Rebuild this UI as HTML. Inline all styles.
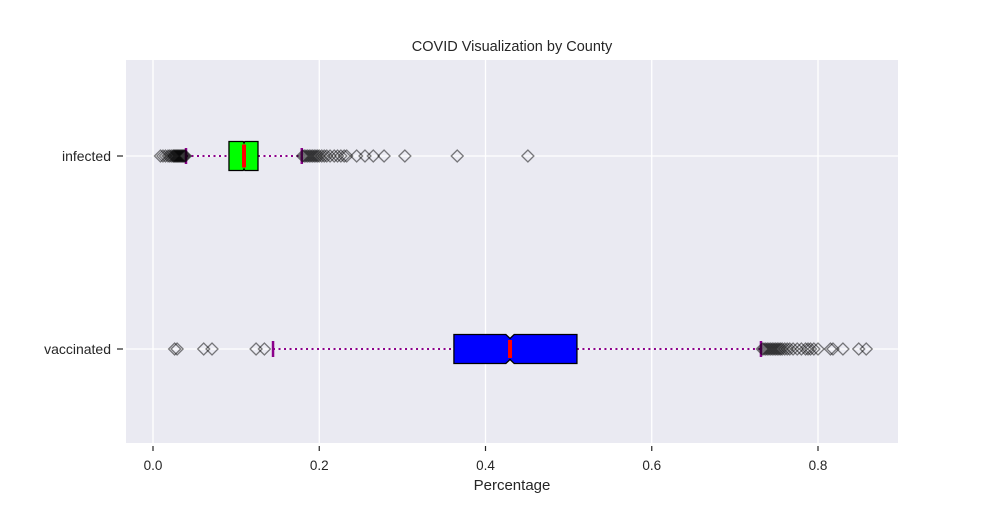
<!DOCTYPE html>
<html><head><meta charset="utf-8"><style>
body{margin:0;background:#fff;}
svg text{font-family:"Liberation Sans",sans-serif;fill:#262626;}
</style></head><body>
<svg id="chart" width="1000" height="500" xmlns="http://www.w3.org/2000/svg">
<rect x="126" y="60" width="772" height="383" fill="#eaeaf2"/>
<g id="grid"></g>
<g id="marks"></g>
<g id="axes"></g>
<text x="512" y="51" text-anchor="middle" font-size="14.5">COVID Visualization by County</text>
<text x="512" y="490" text-anchor="middle" font-size="15">Percentage</text>
</svg>
<script>
const categories = ["infected", "vaccinated"];
const q1 = [0.0914, 0.362];
const q3 = [0.1263, 0.510];
const medians = [0.1095, 0.4295];
const notchLo = [0.1085, 0.4245];
const notchHi = [0.1105, 0.4345];
const whiskerLo = [0.0397, 0.1444];
const whiskerHi = [0.179, 0.7314];
const boxColors = ["#00ff00", "#0000ff"];
const outliers = [
  [0.009,0.012,0.015,0.018,0.020,0.022,0.024,0.025,0.026,0.027,0.028,0.029,0.030,0.031,0.032,0.033,0.034,0.035,0.036,0.037,0.038,0.039,
   0.180,0.182,0.184,0.186,0.188,0.190,0.192,0.194,0.196,0.198,0.200,0.203,0.206,0.209,0.213,0.218,0.222,0.226,0.230,0.233,0.245,0.255,0.265,0.278,0.303,0.366,0.451],
  [0.026,0.029,0.061,0.071,0.124,0.134,
   0.733,0.735,0.737,0.739,0.741,0.743,0.745,0.747,0.749,0.751,0.753,0.755,0.757,0.760,0.763,0.766,0.770,0.775,0.780,0.785,0.788,0.791,0.795,0.800,0.815,0.818,0.830,0.849,0.858]
];
const xTicks = [0, 0.2, 0.4, 0.6, 0.8];
const xTickLabels = ["0.0", "0.2", "0.4", "0.6", "0.8"];

const NS = "http://www.w3.org/2000/svg";
const xs = v => 153 + v * 831.25;
const ys = i => 156 + i * 193;
function mk(parent, tag, attrs){const e=document.createElementNS(NS,tag);for(const k in attrs)e.setAttribute(k,attrs[k]);document.getElementById(parent).appendChild(e);return e;}

xTicks.forEach((t,i)=>{
  const g=mk("grid","line",{x1:xs(t),x2:xs(t),y1:60,y2:443,stroke:"#fff","stroke-width":1.3});
  
  
  const tk=mk("axes","line",{x1:xs(t),x2:xs(t),y1:446,y2:451,stroke:"#262626","stroke-width":1.2});
  
  
  const tl=mk("axes","text",{x:xs(t),y:470,"text-anchor":"middle","font-size":"13.5"});
  tl.textContent=xTickLabels[i];
  
  
});
categories.forEach((c,i)=>{
  const y=ys(i);
  const g=mk("grid","line",{x1:126,x2:898,y1:y,y2:y,stroke:"#fff","stroke-width":1.3});
  
  
  const tk=mk("axes","line",{x1:117,x2:123,y1:y,y2:y,stroke:"#262626","stroke-width":1.2});
  
  
  const tl=mk("axes","text",{x:111,y:y+5,"text-anchor":"end","font-size":"14"});
  tl.textContent=c;
  
  

  const w1=mk("marks","line",{x1:xs(whiskerLo[i]),x2:xs(q1[i]),y1:y,y2:y,stroke:"#8b008b","stroke-width":2,"stroke-dasharray":"2,3.5"});
  
  
  const w2=mk("marks","line",{x1:xs(q3[i]),x2:xs(whiskerHi[i]),y1:y,y2:y,stroke:"#8b008b","stroke-width":2,"stroke-dasharray":"2,3.5"});
  
  
  [whiskerLo[i],whiskerHi[i]].forEach(v=>{
    const cp=mk("marks","line",{x1:xs(v),x2:xs(v),y1:y-8,y2:y+8,stroke:"#8b008b","stroke-width":2.5});
    
    
  });
  outliers[i].forEach(v=>{
    const x=xs(v);
    const d=mk("marks","path",{d:`M${x-6},${y}L${x},${y-6}L${x+6},${y}L${x},${y+6}Z`,fill:"none",stroke:"#000","stroke-opacity":0.5,"stroke-width":1.3});
    
    
  });
  const h=14.5, n=i===0?1.5:4;
  const a=xs(q1[i]),b=xs(notchLo[i]),m=xs(medians[i]),e=xs(notchHi[i]),f=xs(q3[i]);
  const box=mk("marks","path",{d:`M${a},${y-h}L${b},${y-h}L${m},${y-h+n}L${e},${y-h}L${f},${y-h}L${f},${y+h}L${e},${y+h}L${m},${y+h-n}L${b},${y+h}L${a},${y+h}Z`,fill:boxColors[i],stroke:"#000","stroke-width":1.3});
  
  
  const md=mk("marks","line",{x1:m,x2:m,y1:y-h+n+1.5,y2:y+h-n-1.5,stroke:"#ff0000","stroke-width":4});
  
  
});
</script>
</body></html>
